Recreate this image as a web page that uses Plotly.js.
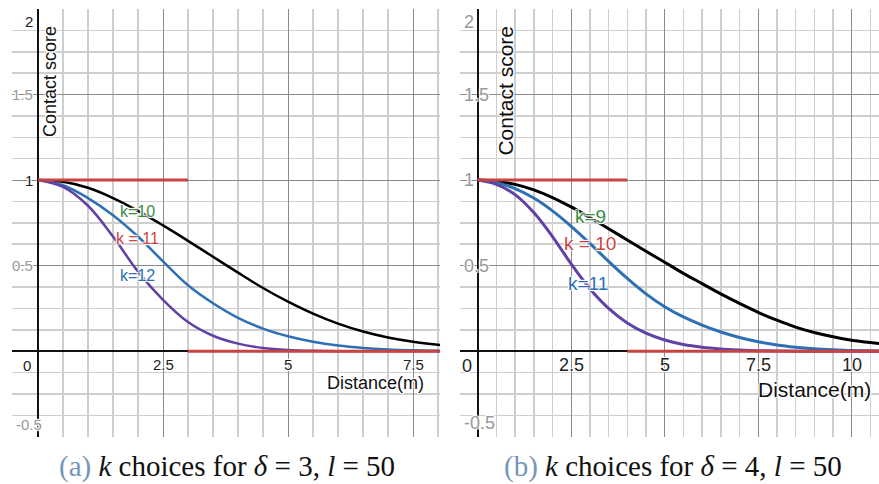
<!DOCTYPE html>
<html>
<head>
<meta charset="utf-8">
<script src="https://cdn.plot.ly/plotly-3.0.1.min.js"></script>
<style>html,body{margin:0;padding:0;background:#fff;}#chart{width:879px;height:484px;}</style>
</head>
<body>
<div id="chart"></div>
<script>
// ---- data ----
// panel (a): delta = 3, l = 50
const distA   = [0,0.5,1,1.5,2,2.5,3,3.5,4,4.5,5,5.5,6,6.5,7,7.5,8,8.5];
const k10A    = [1,0.99,0.955,0.895,0.82,0.735,0.645,0.552,0.459,0.369,0.289,0.219,0.161,0.115,0.08,0.055,0.038,0.026];
const k11A    = [1,0.97,0.895,0.795,0.67,0.525,0.385,0.28,0.195,0.132,0.087,0.055,0.033,0.019,0.01,0.005,0.002,0.001];
const k12A    = [1,0.96,0.85,0.67,0.465,0.3,0.17,0.09,0.044,0.019,0.007,0.002,0,0,0,0,0,0];
const stepXA  = [0,3,null,3,9];
const stepYA  = [1,1,null,0,0];
const labelsA = ["k=10","k = 11","k=12"];

// panel (b): delta = 4, l = 50
const distB   = [0,0.5,1,1.5,2,2.5,3,3.5,4,4.5,5,5.5,6,6.5,7,7.5,8,8.5,9,9.5,10,10.5,11];
const k9B     = [1,0.993,0.975,0.943,0.898,0.843,0.781,0.716,0.65,0.584,0.52,0.455,0.395,0.335,0.279,0.227,0.181,0.141,0.109,0.084,0.064,0.05,0.039];
const k10B    = [1,0.985,0.95,0.895,0.82,0.73,0.63,0.525,0.425,0.335,0.26,0.2,0.152,0.112,0.08,0.055,0.036,0.023,0.014,0.008,0.004,0.002,0.001];
const k11B    = [1,0.975,0.915,0.81,0.67,0.51,0.365,0.25,0.165,0.105,0.065,0.039,0.023,0.013,0.007,0.003,0.001,0,0,0,0,0,0];
const stepXB  = [0,4,null,4,12];
const stepYB  = [1,1,null,0,0];
const labelsB = ["k=9","k = 10","k=11"];

// tick labels
const yTickVals  = [2,1.5,1,0.5,-0.5];
const yTickText  = ["2","1.5","1","0.5","-0.5"];
const xTickValsA = [2.5,5,7.5];
const xTickTextA = ["2.5","5","7.5"];
const xTickValsB = [2.5,5,7.5,10];
const xTickTextB = ["2.5","5","7.5","10"];
const axisTitleX = "Distance(m)";
const axisTitleY = "Contact score";
const captionA = "<span style='color:#7496b8'>(a)</span> <i>k</i> choices for <i>δ</i> = 3, <i>l</i> = 50";
const captionB = "<span style='color:#7496b8'>(b)</span> <i>k</i> choices for <i>δ</i> = 4, <i>l</i> = 50";

// ---- styling ----
const C_BLACK = '#000000', C_BLUE = '#2d70b3', C_PURPLE = '#6042a6', C_RED = '#c74440', C_GREEN = '#388c46';
const SANS = 'Liberation Sans, Arial, sans-serif';
const HALO = '1px 1px 1px #fff, -1px -1px 1px #fff, 1px -1px 1px #fff, -1px 1px 1px #fff';

function curve(x, y, color, xa, ya, w) {
  return {x: x, y: y, type: 'scatter', mode: 'lines', xaxis: xa, yaxis: ya,
          line: {color: color, width: w, shape: 'spline', smoothing: 1}, hoverinfo: 'skip', showlegend: false};
}
function step(x, y, xa, ya) {
  return {x: x, y: y, type: 'scatter', mode: 'lines', xaxis: xa, yaxis: ya,
          line: {color: C_RED, width: 3}, hoverinfo: 'skip', showlegend: false};
}

const data = [
  curve(distA, k10A, C_BLACK, 'x', 'y', 2.5),
  curve(distA, k11A, C_BLUE, 'x', 'y', 2.5),
  curve(distA, k12A, C_PURPLE, 'x', 'y', 2.5),
  step(stepXA, stepYA, 'x', 'y'),
  curve(distB, k9B, C_BLACK, 'x2', 'y2', 3),
  curve(distB, k10B, C_BLUE, 'x2', 'y2', 3),
  curve(distB, k11B, C_PURPLE, 'x2', 'y2', 3),
  step(stepXB, stepYB, 'x2', 'y2')
];

function xaxisDef(domain, range, anchor) {
  return {domain: domain, range: range, anchor: anchor, dtick: 2.5, tick0: 0,
          showgrid: true, gridcolor: '#8a8a8a', gridwidth: 1,
          minor: {dtick: 0.5, tick0: 0, showgrid: true, gridcolor: '#cecece', gridwidth: 1.5},
          zeroline: true, zerolinecolor: '#111', zerolinewidth: 2,
          showticklabels: false, ticks: '', showline: false, fixedrange: true};
}
function yaxisDef(anchor) {
  return {domain: [0.0977, 0.9814], range: [-0.5, 2.0], anchor: anchor, dtick: 0.5, tick0: 0,
          showgrid: true, gridcolor: '#8a8a8a', gridwidth: 1,
          minor: {dtick: 0.125, tick0: 0, showgrid: true, gridcolor: '#cecece', gridwidth: 1.5},
          zeroline: true, zerolinecolor: '#111', zerolinewidth: 2,
          showticklabels: false, ticks: '', showline: false, fixedrange: true};
}

const ann = [];
// y tick labels, panel a
yTickVals.forEach((v, i) => {
  const dark = (v === 2 || v === 1);
  const a = {xref: 'x', yref: 'y', x: 0, y: v, text: yTickText[i], showarrow: false,
             xanchor: 'right', yanchor: 'middle', xshift: -3,
             font: {family: SANS, size: 15, color: dark ? '#222' : '#999', shadow: HALO}};
  if (v === 2) { a.yanchor = 'top'; a.yshift = -2; }
  if (v === -0.5) { a.xref = 'x domain'; a.x = 0.005; a.xanchor = 'left'; a.xshift = 0; a.yanchor = 'bottom'; a.yshift = 2; }
  ann.push(a);
});
// y tick labels, panel b
yTickVals.forEach((v, i) => {
  const a = {xref: 'x2 domain', yref: 'y2', x: 0.004, y: v, text: yTickText[i], showarrow: false,
             xanchor: 'left', yanchor: 'middle',
             font: {family: SANS, size: 18, color: '#999', shadow: HALO}};
  if (v === 2) { a.yanchor = 'top'; a.yshift = -1; }
  if (v === -0.5) { a.yanchor = 'bottom'; a.yshift = 2; }
  ann.push(a);
});
// origin labels
ann.push({xref: 'x', yref: 'y', x: 0, y: 0, text: '0', showarrow: false, xanchor: 'right', yanchor: 'top',
          xshift: -5, yshift: -4, font: {family: SANS, size: 15, color: '#222', shadow: HALO}});
ann.push({xref: 'x2', yref: 'y2', x: 0, y: 0, text: '0', showarrow: false, xanchor: 'right', yanchor: 'top',
          xshift: -4, yshift: -3, font: {family: SANS, size: 18, color: '#222', shadow: HALO}});
// x tick labels
xTickValsA.forEach((v, i) => ann.push({xref: 'x', yref: 'y', x: v, y: 0, text: xTickTextA[i], showarrow: false,
  xanchor: 'center', yanchor: 'top', yshift: -3, font: {family: SANS, size: 15, color: '#222', shadow: HALO}}));
xTickValsB.forEach((v, i) => ann.push({xref: 'x2', yref: 'y2', x: v, y: 0, text: xTickTextB[i], showarrow: false,
  xanchor: 'center', yanchor: 'top', yshift: -2, font: {family: SANS, size: 18, color: '#222', shadow: HALO}}));
// axis titles
ann.push({xref: 'x', yref: 'y', x: 6.74, y: -0.188, text: axisTitleX, showarrow: false,
          font: {family: SANS, size: 18, color: '#111', shadow: HALO}});
ann.push({xref: 'x2', yref: 'y2', x: 9.0, y: -0.222, text: axisTitleX, showarrow: false,
          font: {family: SANS, size: 21, color: '#111', shadow: HALO}});
ann.push({xref: 'x', yref: 'y', x: 0.24, y: 1.579, text: axisTitleY, showarrow: false, textangle: -90,
          font: {family: SANS, size: 18, color: '#111', shadow: HALO}});
ann.push({xref: 'x2', yref: 'y2', x: 0.743, y: 1.526, text: axisTitleY, showarrow: false, textangle: -90,
          font: {family: SANS, size: 21, color: '#111', shadow: HALO}});
// curve labels
const labColors = [C_GREEN, C_RED, C_BLUE];
const labPosA = [[1.99, 0.815], [1.99, 0.661], [1.99, 0.444]];
const labPosB = [[3.02, 0.789], [3.0, 0.632], [2.95, 0.396]];
labelsA.forEach((t, i) => ann.push({xref: 'x', yref: 'y', x: labPosA[i][0], y: labPosA[i][1], text: t, showarrow: false,
  font: {family: SANS, size: 16, color: labColors[i], shadow: HALO}}));
labelsB.forEach((t, i) => ann.push({xref: 'x2', yref: 'y2', x: labPosB[i][0], y: labPosB[i][1], text: t, showarrow: false,
  font: {family: SANS, size: 19, color: labColors[i], shadow: HALO}}));
// captions
ann.push({xref: 'paper', yref: 'paper', x: 0.2577, y: 0.036, text: captionA, showarrow: false,
          xanchor: 'center', yanchor: 'middle', font: {family: 'Liberation Serif, DejaVu Serif, serif', size: 29, color: '#111'}});
ann.push({xref: 'paper', yref: 'paper', x: 0.7656, y: 0.036, text: captionB, showarrow: false,
          xanchor: 'center', yanchor: 'middle', font: {family: 'Liberation Serif, DejaVu Serif, serif', size: 29, color: '#111'}});

const layout = {
  width: 879, height: 484,
  margin: {l: 0, r: 0, t: 0, b: 0, pad: 0},
  paper_bgcolor: '#ffffff', plot_bgcolor: '#ffffff',
  showlegend: false,
  xaxis: xaxisDef([0.01365, 0.5006], [-0.52, 8.04], 'y'),
  yaxis: yaxisDef('x'),
  xaxis2: xaxisDef([0.5233, 1.0], [-0.473, 10.73], 'y2'),
  yaxis2: yaxisDef('x2'),
  annotations: ann
};

Plotly.newPlot('chart', data, layout, {displayModeBar: false, staticPlot: true});
</script>
</body>
</html>
